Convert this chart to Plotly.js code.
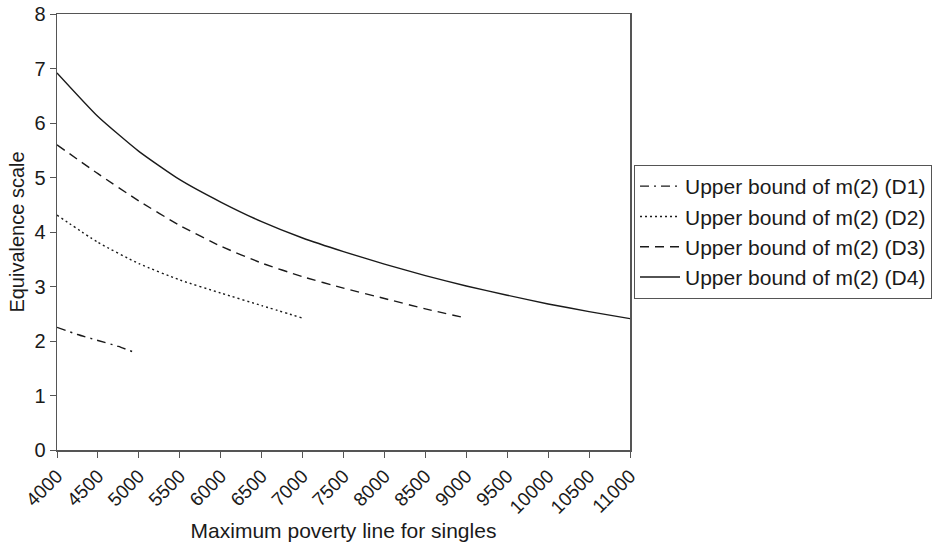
<!DOCTYPE html>
<html>
<head>
<meta charset="utf-8">
<script src="https://cdn.plot.ly/plotly-3.0.1.min.js"></script>
<style>
  html, body { margin: 0; padding: 0; background: #fff; }
  #chart { width: 934px; height: 548px; }
</style>
</head>
<body>
<div id="chart"></div>
<script>
// Maximum poverty line for singles (x) and the upper bounds of m(2)
const xD1 = [4000, 4250, 4500, 4750, 4930];
const yD1 = [2.25, 2.12, 2.01, 1.90, 1.80];

const xD2 = [4000, 4500, 5000, 5500, 6000, 6500, 7000];
const yD2 = [4.31, 3.81, 3.42, 3.12, 2.88, 2.65, 2.42];

const xD3 = [4000, 4500, 5000, 5500, 6000, 6500, 7000, 7500, 8000, 8500, 9000];
const yD3 = [5.60, 5.07, 4.57, 4.12, 3.74, 3.43, 3.18, 2.97, 2.78, 2.59, 2.42];

const xD4 = [4000, 4500, 5000, 5500, 6000, 6500, 7000, 7500, 8000, 8500, 9000, 9500, 10000, 10500, 11000];
const yD4 = [6.92, 6.12, 5.48, 4.96, 4.55, 4.19, 3.89, 3.64, 3.41, 3.20, 3.01, 2.84, 2.68, 2.54, 2.41];

const seriesNames = [
  'Upper bound of m(2) (D1)',
  'Upper bound of m(2) (D2)',
  'Upper bound of m(2) (D3)',
  'Upper bound of m(2) (D4)'
];

const xTicks = [4000, 4500, 5000, 5500, 6000, 6500, 7000, 7500, 8000, 8500, 9000, 9500, 10000, 10500, 11000];

const FONT = 'Liberation Sans, Arial, Helvetica, sans-serif';
const INK = '#1a1a1a';
const AXIS = '#555555';

const styles = [
  { dash: '9px,5px,2px,5px' },
  { dash: '2px,3px' },
  { dash: '9px,6px' },
  { dash: 'solid' }
];
const xs = [xD1, xD2, xD3, xD4];
const ys = [yD1, yD2, yD3, yD4];

const traces = seriesNames.map((name, i) => ({
  type: 'scatter',
  mode: 'lines',
  x: xs[i],
  y: ys[i],
  name: name,
  line: { color: INK, width: 1.4, dash: styles[i].dash, shape: 'spline', smoothing: 0.5 }
}));

const layout = {
  width: 934,
  height: 548,
  margin: { l: 57, r: 304, t: 14, b: 98, autoexpand: false },
  paper_bgcolor: '#ffffff',
  plot_bgcolor: '#ffffff',
  font: { family: FONT, size: 20, color: INK },
  showlegend: true,
  legend: {
    x: 1.007, xanchor: 'left',
    y: 0.5, yanchor: 'middle',
    bordercolor: AXIS, borderwidth: 1,
    bgcolor: '#ffffff',
    font: { family: FONT, size: 21, color: INK },
    itemwidth: 40,
    tracegroupgap: 0
  },
  xaxis: {
    range: [4000, 11000],
    tickmode: 'array',
    tickvals: xTicks,
    ticktext: xTicks.map(String),
    tickangle: -45,
    ticks: 'outside', ticklen: 6, tickcolor: AXIS, tickwidth: 1,
    showline: true, linecolor: AXIS, linewidth: 1.5, mirror: true,
    showgrid: false, zeroline: false,
    tickfont: { family: FONT, size: 19, color: INK },
    title: { text: 'Maximum poverty line for singles', font: { family: FONT, size: 21, color: INK }, standoff: 6 }
  },
  yaxis: {
    range: [0, 8],
    dtick: 1,
    ticks: 'outside', ticklen: 6, tickcolor: AXIS, tickwidth: 1,
    showline: true, linecolor: AXIS, linewidth: 1.5, mirror: true,
    showgrid: false, zeroline: false,
    tickfont: { family: FONT, size: 20, color: INK },
    title: { text: 'Equivalence scale', font: { family: FONT, size: 20, color: INK }, standoff: 4 }
  }
};

Plotly.newPlot('chart', traces, layout, { displayModeBar: false, staticPlot: true });
</script>
</body>
</html>
